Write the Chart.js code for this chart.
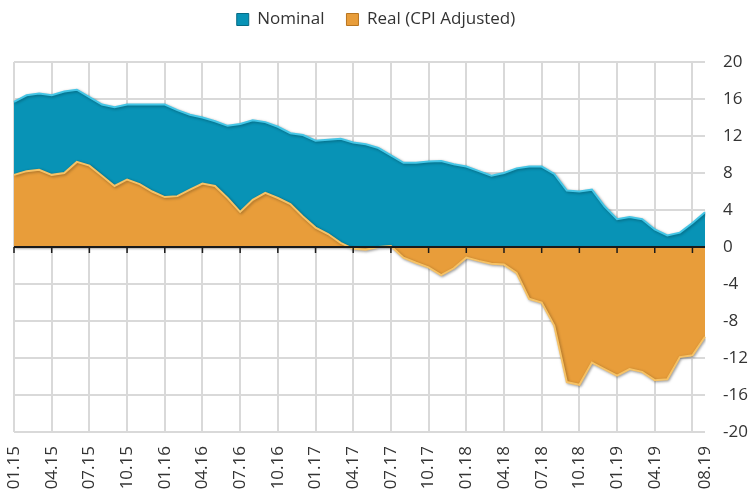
<!DOCTYPE html>
<html>
<head>
<meta charset="utf-8">
<script src="https://cdn.jsdelivr.net/npm/chart.js@4/dist/chart.umd.min.js"></script>
<style>
  body { margin: 0; background: #fff; }
  #wrap { width: 752px; height: 497px; }
</style>
</head>
<body>
<div id="wrap"><canvas id="rateChart" width="752" height="497"></canvas></div>
<script>
//Months on the x axis
const months = [
  "01.15","02.15","03.15","04.15","05.15","06.15","07.15","08.15","09.15","10.15","11.15","12.15",
  "01.16","02.16","03.16","04.16","05.16","06.16","07.16","08.16","09.16","10.16","11.16","12.16",
  "01.17","02.17","03.17","04.17","05.17","06.17","07.17","08.17","09.17","10.17","11.17","12.17",
  "01.18","02.18","03.18","04.18","05.18","06.18","07.18","08.18","09.18","10.18","11.18","12.18",
  "01.19","02.19","03.19","04.19","05.19","06.19","07.19","08.19"
];

//Only these months get a label under the chart
const tickLabels = [
  "01.15","04.15","07.15","10.15","01.16","04.16","07.16","10.16","01.17","04.17",
  "07.17","10.17","01.18","04.18","07.18","10.18","01.19","04.19","08.19"
];

//Months that get a vertical grid line and a tick on the zero line
const gridMonths = [
  "01.15","04.15","07.15","10.15","01.16","04.16","07.16","10.16","01.17","04.17",
  "07.17","10.17","01.18","04.18","07.18","10.18","01.19","04.19","07.19"
];

const nominal = [
  15.7, 16.4, 16.6, 16.4, 16.8, 17.0, 16.2, 15.4, 15.1, 15.4, 15.4, 15.4,
  15.4, 14.8, 14.3, 14.0, 13.6, 13.1, 13.3, 13.7, 13.5, 13.0, 12.3, 12.1,
  11.5, 11.6, 11.7, 11.3, 11.1, 10.7, 9.9, 9.1, 9.1, 9.25, 9.3, 8.95,
  8.7, 8.2, 7.7, 8.0, 8.5, 8.7, 8.7, 7.9, 6.1, 6.0, 6.2, 4.4,
  3.0, 3.25, 3.0, 1.9, 1.25, 1.55, 2.6, 3.75
];

const real = [
  7.8, 8.2, 8.35, 7.8, 8.0, 9.2, 8.8, 7.7, 6.6, 7.3, 6.8, 6.0,
  5.4, 5.5, 6.2, 6.85, 6.6, 5.3, 3.8, 5.1, 5.85, 5.3, 4.65, 3.3,
  2.1, 1.4, 0.45, -0.2, -0.3, 0.0, 0.1, -1.15, -1.7, -2.2, -3.05, -2.3,
  -1.15, -1.5, -1.8, -1.9, -2.8, -5.6, -6.0, -8.5, -14.6, -14.9, -12.5, -13.2,
  -13.9, -13.2, -13.5, -14.4, -14.3, -11.9, -11.7, -9.7
];

const yTicks = [-20, -16, -12, -8, -4, 0, 4, 8, 12, 16, 20];

const FONT = "'Open Sans', sans-serif";
const TEXT_COLOR = "#333333";
const GRID_COLOR = "#d9d9d9";

//Draws the dark zero axis line with little tick marks pointing down
const zeroLinePlugin = {
  id: "zeroLine",
  beforeDatasetsDraw(chart) {
    const ctx = chart.ctx;
    ctx.save();
    ctx.shadowColor = "rgba(0,0,0,0.35)";
    ctx.shadowBlur = 3;
    ctx.shadowOffsetX = 1;
    ctx.shadowOffsetY = 1;
  },
  afterDatasetsDraw(chart) {
    const ctx = chart.ctx;
    ctx.restore();
    const x = chart.scales.x;
    const y = chart.scales.y;
    const y0 = y.getPixelForValue(0);
    ctx.save();
    ctx.strokeStyle = "#1a1a1a";
    ctx.lineWidth = 2;
    ctx.beginPath();
    ctx.moveTo(chart.chartArea.left, y0);
    ctx.lineTo(chart.chartArea.right, y0);
    ctx.stroke();
    ctx.lineWidth = 1.5;
    gridMonths.forEach((m) => {
      const px = x.getPixelForValue(months.indexOf(m));
      ctx.beginPath();
      ctx.moveTo(px, y0);
      ctx.lineTo(px, y0 + 6);
      ctx.stroke();
    });
    ctx.restore();
  },
};

//Y labels on the right, left aligned like the original
const yLabelPlugin = {
  id: "yLabels",
  afterDraw(chart) {
    const ctx = chart.ctx;
    const y = chart.scales.y;
    ctx.save();
    ctx.font = "17px " + FONT;
    ctx.fillStyle = TEXT_COLOR;
    ctx.textAlign = "left";
    ctx.textBaseline = "middle";
    yTicks.forEach((v) => {
      ctx.fillText(String(v), chart.chartArea.right + 18, y.getPixelForValue(v));
    });
    ctx.restore();
  },
};

//Adds some room under the legend
const legendGapPlugin = {
  id: "legendGap",
  beforeInit(chart) {
    const origFit = chart.legend.fit;
    chart.legend.fit = function () {
      origFit.bind(chart.legend)();
      this.height += 24;
    };
  },
};

new Chart(document.getElementById("rateChart"), {
  type: "line",
  data: {
    labels: months,
    datasets: [
      {
        label: "Nominal",
        data: nominal,
        backgroundColor: "#0893b6",
        borderColor: "#45c6e6",
        borderWidth: 2,
        fill: "origin",
        pointRadius: 0,
        tension: 0,
        order: 2,
      },
      {
        label: "Real (CPI Adjusted)",
        data: real,
        backgroundColor: "#e89d3a",
        borderColor: "#f6c266",
        borderWidth: 2,
        fill: "origin",
        pointRadius: 0,
        tension: 0,
        order: 1,
      },
    ],
  },
  options: {
    responsive: false,
    animation: false,
    layout: { padding: { left: 4, right: 4, top: -11, bottom: 5 } },
    plugins: {
      tooltip: { enabled: false },
      legend: {
        position: "top",
        labels: {
          font: { family: FONT, size: 17 },
          color: TEXT_COLOR,
          boxWidth: 12,
          boxHeight: 12,
          padding: 22,
          sort: (a, b) => a.datasetIndex - b.datasetIndex,
          generateLabels(chart) {
            const items = Chart.defaults.plugins.legend.labels.generateLabels(chart);
            items.forEach((it) => {
              it.strokeStyle = it.datasetIndex === 0 ? "#056b85" : "#b87520";
              it.lineWidth = 1;
            });
            return items;
          },
        },
      },
    },
    scales: {
      x: {
        offset: false,
        border: { display: false },
        afterFit: (axis) => {
          axis.height = 60;
        },
        grid: {
          offset: false,
          drawTicks: false,
          lineWidth: 2,
          color: (c) =>
            gridMonths.includes(months[c.index]) ? GRID_COLOR : "transparent",
        },
        ticks: {
          autoSkip: false,
          minRotation: 90,
          maxRotation: 90,
          padding: 14,
          color: TEXT_COLOR,
          font: { family: FONT, size: 17 },
          callback: function (value) {
            const lbl = this.getLabelForValue(value);
            return tickLabels.includes(lbl) ? lbl : "";
          },
        },
      },
      y: {
        position: "right",
        min: yTicks[0],
        max: yTicks[yTicks.length - 1],
        border: { display: false },
        grid: { color: GRID_COLOR, lineWidth: 2, drawTicks: false },
        afterBuildTicks: (axis) => {
          axis.ticks = yTicks.map((v) => ({ value: v }));
        },
        afterFit: (axis) => {
          axis.width = 43;
        },
        ticks: { display: false },
      },
    },
  },
  plugins: [zeroLinePlugin, yLabelPlugin, legendGapPlugin],
});
</script>
</body>
</html>
